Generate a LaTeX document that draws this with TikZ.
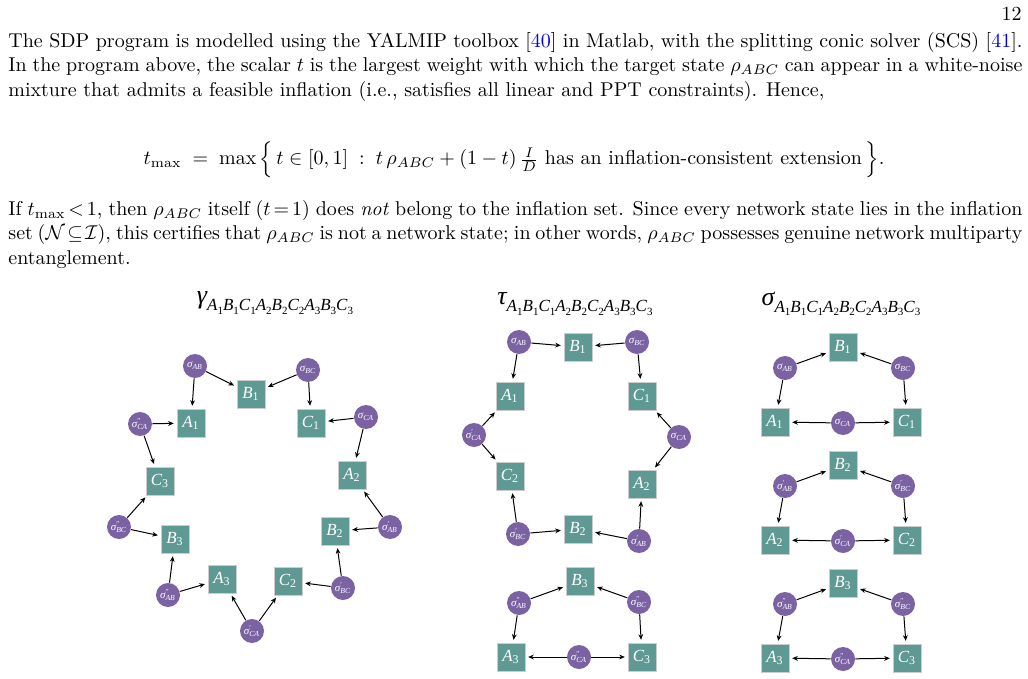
\documentclass[tikz,border=0pt]{standalone}
\usepackage{fontspec}
\usepackage{amsmath}
\usetikzlibrary{arrows.meta}
\newfontfamily\tms{Liberation Serif}
\definecolor{partyteal}{HTML}{5F9994}
\definecolor{srcpurple}{HTML}{7B62A3}
\definecolor{citeblue}{HTML}{0000EE}
\newcommand{\lbl}[2]{#1\textsubscript{\upshape #2}}
\newcommand{\src}[2]{σ\rlap{\textsuperscript{\upshape #1}}\textsubscript{#2}}
\newcommand{\pair}[2]{#1\raisebox{-0.45ex}{\fontsize{5.5}{6}\selectfont\upshape #2}}
\newcommand{\chain}{\raisebox{-0.6ex}{\fontsize{8.5}{9}\selectfont\itshape
  \pair{A}{1}\pair{B}{1}\pair{C}{1}\pair{A}{2}\pair{B}{2}\pair{C}{2}\pair{A}{3}\pair{B}{3}\pair{C}{3}}}

\tikzset{
  party/.style={fill=partyteal, draw=white!80!black, line width=0.2pt, minimum size=14pt,
    inner sep=0pt, text=white, font=\tms\itshape\fontsize{8.5}{9}\selectfont},
  source/.style={circle, fill=srcpurple, minimum size=12pt, inner sep=0pt, text=white,
    font=\tms\itshape\fontsize{5.5}{6}\selectfont},
  feed/.style={-{Stealth[length=2.8pt,width=2.4pt]}, line width=0.5pt, shorten >=1.5pt},
  title/.style={font=\tms\itshape\fontsize{13}{14}\selectfont},
  para/.style={anchor=north west, inner sep=0pt, text width=507pt, align=justify,
    font=\fontsize{10}{12.25}\selectfont}
}

\begin{document}
\begin{tikzpicture}[x=0.5pt, y=-0.5pt]
    \useasboundingbox (0,0) rectangle (1028,679);

    % page text
    \node[anchor=north east, inner sep=0pt, font=\fontsize{10}{12}\selectfont] (pageno) at (1022,7) {12};
    \node[para] (firstpar) at (8,32) {The SDP program is modelled using the YALMIP toolbox [\textcolor{citeblue}{40}] in Matlab, with the splitting conic solver (SCS) [\textcolor{citeblue}{41}]. In the program above, the scalar $t$ is the largest weight with which the target state $\rho_{ABC}$ can appear in a white-noise mixture that admits a feasible inflation (i.e., satisfies all linear and PPT constraints). Hence,};
    \node[inner sep=0pt, font=\fontsize{10}{12}\selectfont] (tmaxeq) at (514,160)
        {$t_{\max} \;=\; \max\Big\{\, t \in [0,1] \;:\; t\,\rho_{ABC} + (1-t)\,\frac{I}{D}\ \text{has an inflation-consistent extension}\,\Big\}.$};
    \node[para] (secondpar) at (8,200) {\thickmuskip=3mu plus 2mu minus 1mu
        If $t_{\max} < 1$, then $\rho_{ABC}$ itself ($t = 1$) does \emph{not} belong to the inflation set. Since every network state lies in the inflation\linebreak
        set ($\mathcal{N} \subseteq \mathcal{I}$), this certifies that $\rho_{ABC}$ is not a network state; in other words, $\rho_{ABC}$ possesses genuine network multiparty\linebreak
        entanglement.};

    % titles
    \node[title] (gtitle) at (275,303) {γ\chain};
    \node[title] (ttitle) at (575,304) {τ\chain};
    \node[title] (stitle) at (841,304) {σ\chain};

    % gamma: one ring of nine parties
    \node[party] (gA1) at (191,423) {\lbl{A}{1}};
    \node[party] (gB1) at (251,394) {\lbl{B}{1}};
    \node[party] (gC1) at (311,423) {\lbl{C}{1}};
    \node[party] (gA2) at (352,475) {\lbl{A}{2}};
    \node[party] (gB2) at (335,531) {\lbl{B}{2}};
    \node[party] (gC2) at (288,581) {\lbl{C}{2}};
    \node[party] (gA3) at (222,579) {\lbl{A}{3}};
    \node[party] (gB3) at (175,539) {\lbl{B}{3}};
    \node[party] (gC3) at (160,481) {\lbl{C}{3}};
    \node[source] (gsAB) at (195,366) {\src{}{AB}};
    \node[source] (gsBC) at (308,370) {\src{}{BC}};
    \node[source] (gsCA) at (366,417) {\src{}{CA}};
    \node[source] (gsABi) at (390,527) {\src{′}{AB}};
    \node[source] (gsBCi) at (343,588) {\src{′}{BC}};
    \node[source] (gsCAi) at (252,631) {\src{′}{CA}};
    \node[source] (gsABii) at (168,595) {\src{′′}{AB}};
    \node[source] (gsBCii) at (119,527) {\src{′′}{BC}};
    \node[source] (gsCAii) at (140,424) {\src{′′}{CA}};
    \draw[feed] (gsAB) -- (gA1);   \draw[feed] (gsAB) -- (gB1);
    \draw[feed] (gsBC) -- (gB1);   \draw[feed] (gsBC) -- (gC1);
    \draw[feed] (gsCA) -- (gC1);   \draw[feed] (gsCA) -- (gA2);
    \draw[feed] (gsABi) -- (gA2);  \draw[feed] (gsABi) -- (gB2);
    \draw[feed] (gsBCi) -- (gB2);  \draw[feed] (gsBCi) -- (gC2);
    \draw[feed] (gsCAi) -- (gC2);  \draw[feed] (gsCAi) -- (gA3);
    \draw[feed] (gsABii) -- (gA3); \draw[feed] (gsABii) -- (gB3);
    \draw[feed] (gsBCii) -- (gB3); \draw[feed] (gsBCii) -- (gC3);
    \draw[feed] (gsCAii) -- (gC3); \draw[feed] (gsCAii) -- (gA1);

    % tau: ring of six plus one triangle
    \node[party] (tA1) at (510,396) {\lbl{A}{1}};
    \node[party] (tB1) at (578,347) {\lbl{B}{1}};
    \node[party] (tC1) at (642,396) {\lbl{C}{1}};
    \node[party] (tA2) at (642,484) {\lbl{A}{2}};
    \node[party] (tB2) at (578,529) {\lbl{B}{2}};
    \node[party] (tC2) at (510,476) {\lbl{C}{2}};
    \node[source] (tsAB) at (519,342) {\src{}{AB}};
    \node[source] (tsBC) at (637,342) {\src{}{BC}};
    \node[source] (tsCA) at (679,437) {\src{}{CA}};
    \node[source] (tsABi) at (639,541) {\src{′}{AB}};
    \node[source] (tsBCi) at (518,534) {\src{′}{BC}};
    \node[source] (tsCAi) at (474,435) {\src{′}{CA}};
    \draw[feed] (tsAB) -- (tA1);  \draw[feed] (tsAB) -- (tB1);
    \draw[feed] (tsBC) -- (tB1);  \draw[feed] (tsBC) -- (tC1);
    \draw[feed] (tsCA) -- (tC1);  \draw[feed] (tsCA) -- (tA2);
    \draw[feed] (tsABi) -- (tA2); \draw[feed] (tsABi) -- (tB2);
    \draw[feed] (tsBCi) -- (tB2); \draw[feed] (tsBCi) -- (tC2);
    \draw[feed] (tsCAi) -- (tC2); \draw[feed] (tsCAi) -- (tA1);
    \node[party] (tA3) at (511,657) {\lbl{A}{3}};
    \node[party] (tB3) at (580,581) {\lbl{B}{3}};
    \node[party] (tC3) at (642,657) {\lbl{C}{3}};
    \node[source] (tsABii) at (519,603) {\src{′′}{AB}};
    \node[source] (tsBCii) at (639,602) {\src{′′}{BC}};
    \node[source] (tsCAii) at (579,657) {\src{′′}{CA}};
    \draw[feed] (tsABii) -- (tA3); \draw[feed] (tsABii) -- (tB3);
    \draw[feed] (tsBCii) -- (tB3); \draw[feed] (tsBCii) -- (tC3);
    \draw[feed] (tsCAii) -- (tC3); \draw[feed] (tsCAii) -- (tA3);

    % sigma: three separate triangles
    \foreach \k/\yy/\pr in {1/0/{}, 2/118/{′}, 3/236/{′′}} {
        \node[party] (sA\k) at (775,422+\yy) {\lbl{A}{\k}};
        \node[party] (sB\k) at (843,347+\yy) {\lbl{B}{\k}};
        \node[party] (sC\k) at (907,422+\yy) {\lbl{C}{\k}};
        \node[source] (ssAB\k) at (785,368+\yy) {\src{\pr}{AB}};
        \node[source] (ssBC\k) at (903,368+\yy) {\src{\pr}{BC}};
        \node[source] (ssCA\k) at (843,423+\yy) {\src{\pr}{CA}};
        \draw[feed] (ssAB\k) -- (sA\k); \draw[feed] (ssAB\k) -- (sB\k);
        \draw[feed] (ssBC\k) -- (sB\k); \draw[feed] (ssBC\k) -- (sC\k);
        \draw[feed] (ssCA\k) -- (sC\k); \draw[feed] (ssCA\k) -- (sA\k);
    }
\end{tikzpicture}
\end{document}
